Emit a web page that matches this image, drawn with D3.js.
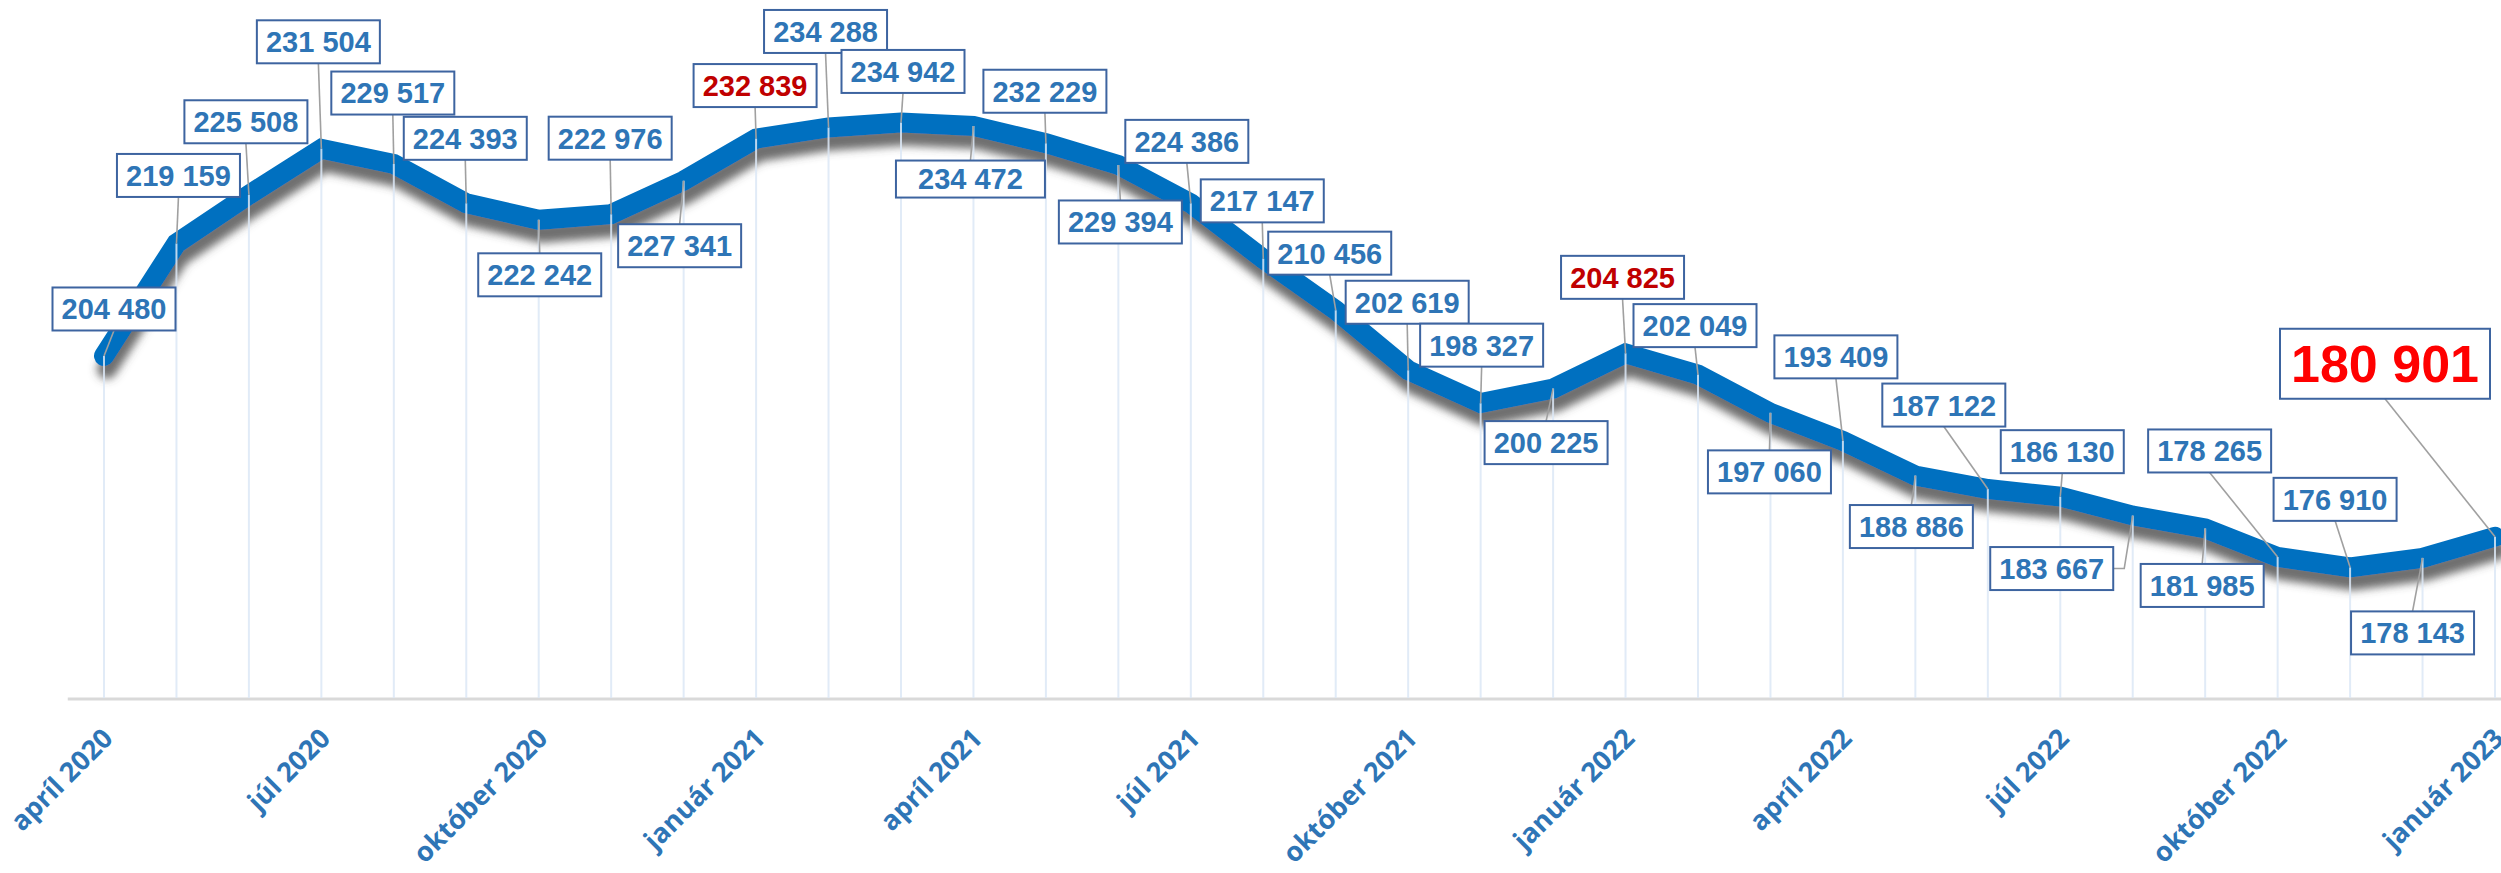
<!DOCTYPE html>
<html>
<head>
<meta charset="utf-8">
<script src="https://cdn.jsdelivr.net/npm/d3@7.9.0/dist/d3.min.js"></script>
<style>
  html, body { margin: 0; padding: 0; background: #fff; }
  svg { display: block; }
</style>
</head>
<body>
<svg id="chart" width="2501" height="873"></svg>
<script>
const months = [
  'apríl 2020', 'máj 2020', 'jún 2020', 'júl 2020', 'august 2020', 'september 2020',
  'október 2020', 'november 2020', 'december 2020', 'január 2021', 'február 2021', 'marec 2021',
  'apríl 2021', 'máj 2021', 'jún 2021', 'júl 2021', 'august 2021', 'september 2021',
  'október 2021', 'november 2021', 'december 2021', 'január 2022', 'február 2022', 'marec 2022',
  'apríl 2022', 'máj 2022', 'jún 2022', 'júl 2022', 'august 2022', 'september 2022',
  'október 2022', 'november 2022', 'december 2022', 'január 2023'
];
const values = [
  204480, 219159, 225508, 231504, 229517, 224393,
  222242, 222976, 227341, 232839, 234288, 234942,
  234472, 232229, 229394, 224386, 217147, 210456,
  202619, 198327, 200225, 204825, 202049, 197060,
  193409, 188886, 187122, 186130, 183667, 181985,
  178265, 176910, 178143, 180901
];
const tickLabels = [
  'apríl 2020', 'júl 2020', 'október 2020', 'január 2021', 'apríl 2021', 'júl 2021',
  'október 2021', 'január 2022', 'apríl 2022', 'júl 2022', 'október 2022', 'január 2023'
];
const highlighted = ['január 2021', 'január 2022'];
const latest = 'január 2023';

// where each label box sits relative to its point (box centre offset)
const labelOffsets = [
  [10, -47], [2, -68], [-3, -73], [-3, -107], [-1, -71], [-1, -65],
  [1, 55], [-1, -76], [-4, 65], [-1, -53], [-3, -96], [2, -51],
  [-3, 53], [-1, -52], [2, 57], [-4, -62], [-1, -58], [-6, -57],
  [-1, -68], [1, -58], [-7, 54], [-3, -76], [-3, -49], [-1, 59],
  [-7, -84], [-4, 51], [-44, -84], [2, -45], [-81, 53], [-3, 57],
  [-68, -106], [-15, -68], [-10, 75], [-110, -173]
];

const fmt = v => d3.format(',')(v).replace(/,/g, ' ');
const data = months.map((m, i) => ({ month: m, value: values[i], off: labelOffsets[i] }));

const svg = d3.select('#chart');
const x = d3.scalePoint().domain(months).range([104, 2495]);
const y = d3.scaleLinear().domain([160000, 250000]).range([697, 7]);
const baseY = 699;

const defs = svg.append('defs');
const f = defs.append('filter').attr('id', 'shadow')
  .attr('x', '-5%').attr('y', '-20%').attr('width', '110%').attr('height', '140%');
f.append('feDropShadow')
  .attr('dx', 3).attr('dy', 13).attr('stdDeviation', 4)
  .attr('flood-color', '#4a4a4a').attr('flood-opacity', 0.8);

// axis line
svg.append('line')
  .attr('x1', x(months[0]) - x.step() / 2).attr('x2', 2501)
  .attr('y1', baseY).attr('y2', baseY)
  .attr('stroke', '#d9d9d9').attr('stroke-width', 3);

// the line
const line = d3.line().x(d => x(d.month)).y(d => y(d.value));
svg.append('path')
  .datum(data)
  .attr('d', line)
  .attr('fill', 'none')
  .attr('stroke', '#0070c0')
  .attr('stroke-width', 20)
  .attr('stroke-linecap', 'round')
  .attr('stroke-linejoin', 'miter')
  .attr('filter', 'url(#shadow)');

// drop lines
svg.append('g').selectAll('line')
  .data(data).join('line')
  .attr('x1', d => x(d.month)).attr('x2', d => x(d.month))
  .attr('y1', d => y(d.value)).attr('y2', baseY - 1)
  .attr('stroke', '#dce8f6').attr('stroke-opacity', 0.85).attr('stroke-width', 2);

// labels
const lab = svg.append('g');
data.forEach(d => {
  const px = x(d.month), py = y(d.value);
  const big = d.month === latest;
  const wide = d.month === 'apríl 2021';
  const w = big ? 210 : (wide ? 149 : 123);
  const h = big ? 70 : (wide ? 37 : 43);
  const cx = px + d.off[0], cy = py + d.off[1];
  const left = cx - w / 2, top = cy - h / 2;

  // leader
  let pts;
  if (d.month === 'august 2022') {
    pts = [[left + w, cy], [left + w + 11, cy], [px, py]];
  } else if (cy < py) {
    pts = [[cx, top + h], [px, py]];
  } else {
    pts = [[cx, top], [px, py]];
  }
  lab.append('path')
    .attr('d', d3.line()(pts))
    .attr('fill', 'none')
    .attr('stroke', '#a0a0a0').attr('stroke-width', 1.6);

  lab.append('rect')
    .attr('x', left).attr('y', top).attr('width', w).attr('height', h)
    .attr('fill', '#fff').attr('stroke', '#3d64a0').attr('stroke-width', 2);

  lab.append('text')
    .attr('x', cx).attr('y', cy)
    .attr('dy', '0.36em')
    .attr('text-anchor', 'middle')
    .attr('font-family', 'Liberation Sans, Arial, sans-serif')
    .attr('font-weight', 'bold')
    .attr('font-size', big ? 52 : 29)
    .attr('fill', big ? '#ff0000' : (highlighted.includes(d.month) ? '#c00000' : '#2e75b6'))
    .text(fmt(d.value));
});

// x axis labels
const axis = d3.axisBottom(x).tickValues(tickLabels).tickSize(0).tickPadding(0);
const gx = svg.append('g').attr('transform', `translate(0,${baseY})`).call(axis);
gx.select('.domain').remove();
gx.selectAll('text')
  .attr('y', 0).attr('dy', 0)
  .attr('text-anchor', 'end')
  .attr('transform', 'translate(10,41) rotate(-45)')
  .attr('font-family', 'Open Sans, sans-serif')
  .attr('font-weight', 'bold')
  .attr('font-size', 27)
  .attr('fill', '#2e75b6');
</script>
</body>
</html>
